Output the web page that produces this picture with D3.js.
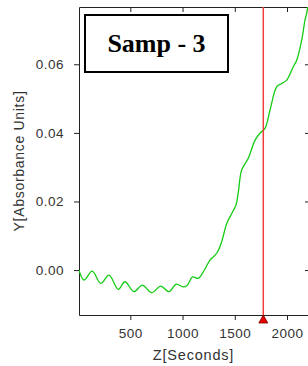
<!DOCTYPE html>
<html>
<head>
<meta charset="utf-8">
<script src="https://cdn.jsdelivr.net/npm/d3@7"></script>
<style>
html,body{margin:0;padding:0;background:#fff;overflow:hidden;}
svg{display:block;}
</style>
</head>
<body>
<script>
// Data
const timeSeconds = [9,57,136,217,296,385,449,535,615,705,791,870,940,1004,1046,1095,1151,1205,1263,1327,1375,1423,1471,1512,1534,1566,1629,1694,1741,1789,1837,1901,1949,1997,2060,2093,2141,2172,2188,2201,2215];
const absorbance = [0,-0.0029,-0.0003,-0.0039,-0.0015,-0.0056,-0.0034,-0.0063,-0.0044,-0.0066,-0.0047,-0.0063,-0.0041,-0.0049,-0.0044,-0.0020,-0.0024,-0.0002,0.0029,0.0049,0.0083,0.0136,0.0165,0.0190,0.0227,0.0292,0.0326,0.0379,0.0399,0.0413,0.0466,0.0534,0.0544,0.0554,0.0593,0.0612,0.0671,0.0729,0.0748,0.0773,0.080];
const xTickValues = [500,1000,1500,2000];
const yTickValues = [0.00,0.02,0.04,0.06];
const markerTime = 1773;
const titleText = "Samp - 3";
const xTitle = "Z[Seconds]";
const yTitle = "Y[Absorbance Units]";

const W = 308, H = 366;
const pLeft = 79, pRight = 310, pTop = 7, pBottom = 315;

const svg = d3.select("body").append("svg").attr("width", W).attr("height", H);

const x = d3.scaleLinear().domain([9, 2220]).range([pLeft, pRight]);
const y = d3.scaleLinear().domain([-0.0131, 0.0767]).range([pBottom, pTop]);

const axisColor = "#222";
const labelFont = "Liberation Sans, Arial, sans-serif";

function styleAxis(g){
  g.select(".domain").attr("stroke", axisColor);
  g.selectAll(".tick line").attr("stroke", axisColor);
  g.selectAll(".tick text").attr("fill", "#333").style("font-family", labelFont)
    .style("font-size", "13.5px").style("letter-spacing","0.5px");
}

// bottom axis
svg.append("g").attr("transform", `translate(0,${pBottom})`)
  .call(d3.axisBottom(x).tickValues(xTickValues).tickFormat(d3.format("d")).tickSize(5).tickPadding(8).tickSizeOuter(0))
  .call(styleAxis);
// top axis (inward ticks, no labels)
svg.append("g").attr("transform", `translate(0,${pTop})`)
  .call(d3.axisBottom(x).tickValues(xTickValues).tickFormat("").tickSize(5).tickSizeOuter(0))
  .call(styleAxis);
// left axis
svg.append("g").attr("transform", `translate(${pLeft},0)`)
  .call(d3.axisLeft(y).tickValues(yTickValues).tickFormat(d3.format(".2f")).tickSize(5).tickPadding(10).tickSizeOuter(0))
  .call(styleAxis);
// right axis (inward ticks)
svg.append("g").attr("transform", `translate(${pRight},0)`)
  .call(d3.axisLeft(y).tickValues(yTickValues).tickFormat("").tickSize(5).tickSizeOuter(0))
  .call(styleAxis);

// clip
svg.append("clipPath").attr("id","plotclip").append("rect")
  .attr("x", pLeft).attr("y", pTop).attr("width", pRight-pLeft).attr("height", pBottom-pTop);

const data = timeSeconds.map((t,i)=>({t, v: absorbance[i]}));
svg.append("path").datum(data)
  .attr("clip-path","url(#plotclip)")
  .attr("fill","none").attr("stroke","#14cc14").attr("stroke-width",1.3)
  .attr("d", d3.line().x(d=>x(d.t)).y(d=>y(d.v)).curve(d3.curveCatmullRom.alpha(0.5)));

// red marker line
svg.append("line")
  .attr("x1", x(markerTime)).attr("x2", x(markerTime))
  .attr("y1", pTop).attr("y2", pBottom)
  .attr("stroke","#f03c3c").attr("stroke-width",1.5);
// triangle marker
const mx = x(markerTime);
svg.append("path")
  .attr("d", `M${mx},${pBottom} L${mx+4.5},${pBottom+8} L${mx-4.5},${pBottom+8} Z`)
  .attr("fill","#e80000").attr("stroke","#700").attr("stroke-width",0.8);

// title box
svg.append("rect").attr("x",85).attr("y",15).attr("width",143).attr("height",57)
  .attr("fill","#fff").attr("stroke","#000").attr("stroke-width",2);
svg.append("text").attr("x",156.5).attr("y",52).attr("text-anchor","middle")
  .style("font-family","Liberation Serif, Times New Roman, serif").style("font-weight","bold").style("font-size","26px")
  .attr("fill","#000").text(titleText);

// axis titles
svg.append("text").attr("x",(pLeft+pRight)/2 - 1).attr("y",360).attr("text-anchor","middle")
  .style("font-family",labelFont).style("font-size","14.5px").style("letter-spacing","0.8px")
  .attr("fill","#333").text(xTitle);
svg.append("text").attr("transform",`translate(24,${(pTop+pBottom)/2}) rotate(-90)`).attr("text-anchor","middle")
  .style("font-family",labelFont).style("font-size","14px").style("letter-spacing","0.7px")
  .attr("fill","#333").text(yTitle);
</script>
</body>
</html>
